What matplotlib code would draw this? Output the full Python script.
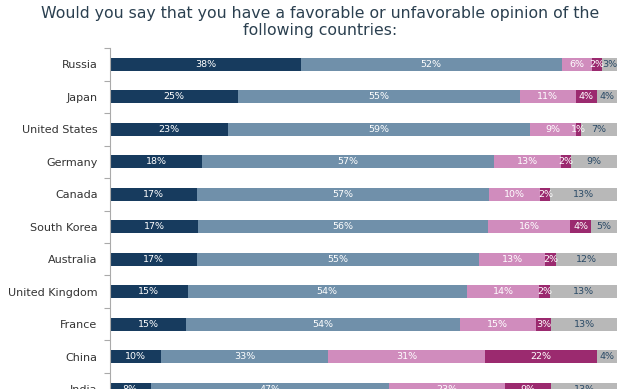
import matplotlib
matplotlib.use('Agg')
import matplotlib.pyplot as plt
import numpy as np

countries = ["Russia", "Japan", "United States", "Germany", "Canada", "South Korea",
             "Australia", "United Kingdom", "France", "China", "India"]
very_fav = [38, 25, 23, 18, 17, 17, 17, 15, 15, 10, 8]
somewhat_fav = [52, 55, 59, 57, 57, 56, 55, 54, 54, 33, 47]
somewhat_unfav = [6, 11, 9, 13, 10, 16, 13, 14, 15, 31, 23]
very_unfav = [2, 4, 1, 2, 2, 4, 2, 2, 3, 22, 9]
dont_know = [3, 4, 7, 9, 13, 5, 12, 13, 13, 4, 13]

series = [very_fav, somewhat_fav, somewhat_unfav, very_unfav, dont_know]
colors = ["#173b5e", "#7090aa", "#d08cbd", "#9b2a6f", "#b8b8b8"]
txtcolors = ["white", "white", "white", "white", "#2a4a66"]

plt.rcParams['font.family'] = ['DejaVu Sans']
fig = plt.figure(figsize=(6.4, 3.89), dpi=100)
ax = fig.add_axes([110/640, 0.0, 507/640, 1 - 48.25/389])

data = np.array(series, dtype=float)
# bars are drawn as shares of the full width (rounded values don't add to 100)
shares = data / data.sum(axis=0) * 100
y = np.arange(len(countries))
left = np.zeros(len(countries))
for i in range(len(series)):
    ax.barh(y, shares[i], left=left, height=0.4, color=colors[i], linewidth=0)
    for j in range(len(countries)):
        ax.text(left[j] + shares[i][j] / 2, y[j], "%d%%" % series[i][j],
                ha='center', va='center', fontsize=6.8, color=txtcolors[i])
    left += shares[i]

ax.set_xlim(0, 100)
ax.set_ylim(10.0, -0.5)
ax.set_yticks(y)
ax.set_yticklabels(countries, fontsize=8, color="#333333")
ax.set_yticks(np.arange(-0.5, 10.5, 1), minor=True)
ax.tick_params(axis='y', which='major', length=0, pad=9)
ax.tick_params(axis='y', which='minor', length=4, color="#aaaaaa", width=0.8)
ax.set_xticks([])
for s in ['top', 'right', 'bottom']:
    ax.spines[s].set_visible(False)
ax.spines['left'].set_color("#aaaaaa")
ax.spines['left'].set_linewidth(0.8)

fig.text(0.5, 0.985, "Would you say that you have a favorable or unfavorable opinion of the\nfollowing countries:",
         ha='center', va='top', fontsize=11.3, color="#2b4050", linespacing=1.15)

plt.savefig("out.png", dpi=100)
